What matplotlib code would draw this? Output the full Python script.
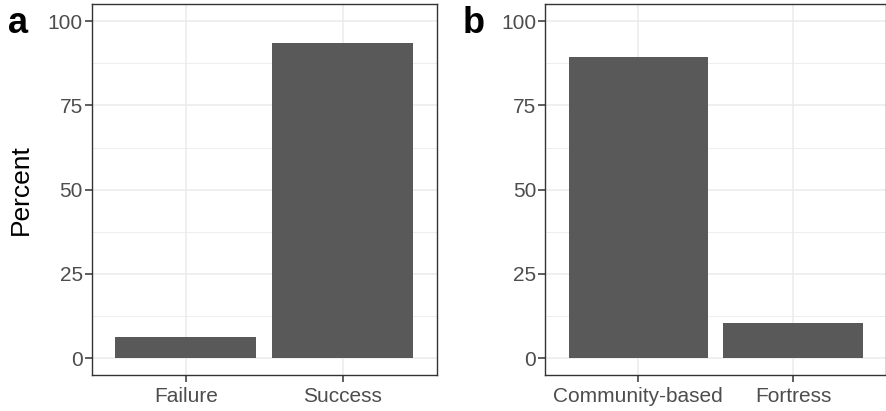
import matplotlib.pyplot as plt
from matplotlib.ticker import MultipleLocator

# dati
outcome = ['Failure', 'Success']
outcome_pct = [6.4, 93.5]
management = ['Community-based', 'Fortress']
management_pct = [89.3, 10.4]
y_ticks = [0, 25, 50, 75, 100]

plt.rcParams['font.family'] = ['Liberation Sans', 'DejaVu Sans']

fig = plt.figure(figsize=(8.87, 4.11), dpi=100)
ax_a = fig.add_axes([0.1037, 0.0876, 0.3886, 0.9019])
ax_b = fig.add_axes([0.6148, 0.0876, 0.3841, 0.9019])


def pannello(ax, categorie, valori, lettera, x_lettera):
    x = range(1, len(categorie) + 1)
    ax.bar(x, valori, width=0.9, color='#595959', zorder=3)
    ax.set_xlim(0.4, len(categorie) + 0.6)
    ax.set_ylim(-5, 105)
    ax.set_xticks(list(x))
    ax.set_xticklabels(categorie)
    ax.set_yticks(y_ticks)
    ax.yaxis.set_minor_locator(MultipleLocator(12.5))
    # griglia stile theme_bw
    ax.grid(which='major', color='#EBEBEB', linewidth=1.1, zorder=0)
    ax.grid(which='minor', axis='y', color='#EBEBEB', linewidth=0.6, zorder=0)
    ax.tick_params(which='minor', length=0)
    ax.tick_params(which='major', length=5, width=1.1, color='#333333',
                   labelcolor='#4D4D4D', labelsize=15)
    ax.tick_params(axis='y', pad=1.5)
    ax.tick_params(axis='x', pad=4)
    for s in ax.spines.values():
        s.set_color('#333333')
        s.set_linewidth(1)
    # lettera del pannello, in coordinate figura
    fig.text(x_lettera, 1 - 33 / 411, lettera, fontsize=26, fontweight='bold',
             color='black', va='baseline')


pannello(ax_a, outcome, outcome_pct, 'a', 8 / 887)
pannello(ax_b, management, management_pct, 'b', 463 / 887)
ax_a.set_ylabel('Percent', fontsize=19, color='black')
ax_a.yaxis.set_label_coords(-0.172, 0.5)

fig.savefig('out.png', dpi=100)
